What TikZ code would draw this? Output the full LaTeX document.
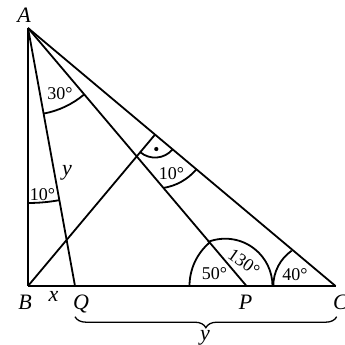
\documentclass[tikz,border=0pt]{standalone}
\usepackage{fontspec}
\setmainfont{Liberation Serif}
\usetikzlibrary{angles,calc,decorations.pathreplacing}
\begin{document}
\begin{tikzpicture}[x=1pt,y=1pt,
  seg/.style={line width=1.8pt},
  baseln/.style={line width=2.8pt},
  arcl/.style={line width=1.8pt},
  lab/.style={font=\fontsize{22}{26}\selectfont\itshape, inner sep=0pt, anchor=base},
  deg/.style={font=\fontsize{18}{22}\selectfont, inner sep=0pt},
  bracel/.style={line width=1.3pt, decorate, decoration={brace, mirror, amplitude=11pt}}]
\useasboundingbox (0,0) rectangle (345,345);
\coordinate (A) at (28,317);
\coordinate (B) at (28,59);
\coordinate (Q) at (75,59);
\coordinate (P) at (246.5,59);
\coordinate (C) at (335.5,59);
\coordinate (H) at ($(A)!(B)!(C)$);
\coordinate (bl) at (75,28.3);
\coordinate (br) at (336.7,28.3);
% lines
\draw[seg] (A) -- (B);
\draw[seg] (A) -- (Q);
\draw[seg] (A) -- (P);
\draw[seg] (A) -- (C);
\draw[seg] (B) -- (H);
\draw[baseln] (B) -- (C);
% angle marks
\pic[draw, arcl, angle radius=175pt] {angle=B--A--Q};
\pic[draw, arcl, angle radius=87pt] {angle=Q--A--P};
\pic[draw, arcl, angle radius=57pt] {angle=A--P--B};
\draw[arcl] ($(P)+(-21.3,0)+(111.6:47.3)$) arc[start angle=111.6, end angle=0, radius=47.3];
\draw[arcl] ($(C)+(-19.1,0)+(180:43.1)$) arc[start angle=180, end angle=125, radius=43.1];
\pic[draw, arcl, angle radius=23pt] {angle=B--H--C};
\fill ($(H)+(-85:14.5)$) circle (2.1pt);
\draw[arcl] ($(H)+(-81.1:54)$) arc[start angle=-81.1, end angle=-40.1, radius=54];
% brace
\draw[bracel] (bl) -- (br);
% labels
\node[lab] (lA) at (24,322) {A};
\node[lab] (lB) at (25,35) {B};
\node[lab] (lx) at (53.5,43) {x};
\node[lab] (lQ) at (81,35) {Q};
\node[lab] (lP) at (245.5,35) {P};
\node[lab] (lC) at (340.5,35) {C};
\node[lab] (ly1) at (67,169) {y};
\node[lab] (ly2) at (205,5) {y};
\node[deg] (d30) at (60,251.5) {30°};
\node[deg] (d10a) at (42.5,150) {10°};
\node[deg] (d10b) at (171.5,171.5) {10°};
\node[deg] (d50) at (214.5,71.5) {50°};
\node[deg, rotate=-35] (d130) at (244,82.5) {130°};
\node[deg] (d40) at (295,70) {40°};
\end{tikzpicture}
\end{document}
